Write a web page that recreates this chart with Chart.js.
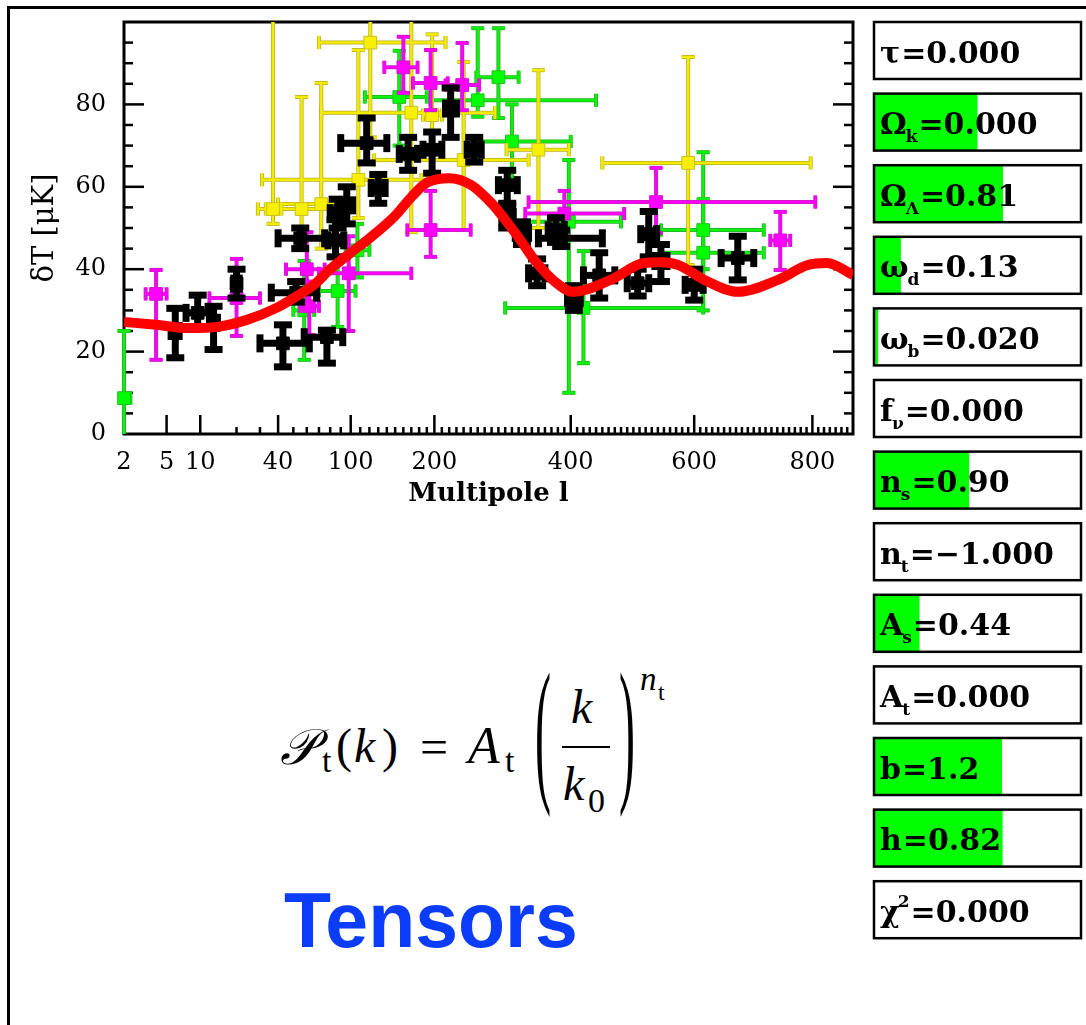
<!DOCTYPE html>
<html>
<head>
<meta charset="utf-8">
<script src="https://cdn.jsdelivr.net/npm/chart.js@4.4.0/dist/chart.umd.min.js"></script>
<style>
  html, body { margin: 0; padding: 0; background: #fff; width: 1086px; height: 1025px; overflow: hidden; }
  #frameTop { position: absolute; left: 7px; top: 6px; width: 1079px; height: 3px; background: #000; }
  #frameLeft { position: absolute; left: 7px; top: 6px; width: 3px; height: 1019px; background: #000; }
  #plot { position: absolute; left: 0; top: 0; }
  #sliders { position: absolute; left: 860px; top: 0; }
  .m { position: absolute; font-family: "Liberation Serif", "DejaVu Serif", serif; line-height: 1; color: #000; white-space: nowrap; }
  .i { font-style: italic; }
  .paren { transform: scale(1, 3.3); }
  #fracBar { position: absolute; left: 562px; top: 746px; width: 48px; height: 2px; background: #000; }
  #tensors { position: absolute; left: 284px; top: 882px; font: bold 77px "Liberation Sans", Arial, sans-serif; line-height: 1; color: #0a3cfa; }
</style>
</head>
<body>
<div id="frameTop"></div>
<div id="frameLeft"></div>
<canvas id="plot" width="870" height="520"></canvas>
<canvas id="sliders" width="226" height="1025"></canvas>

<!-- tensor power spectrum -->
<div class="m i" style="left:280px;top:722px;font-size:50px">𝒫</div>
<div class="m" style="left:322px;top:744px;font-size:34px">t</div>
<div class="m" style="left:336px;top:722px;font-size:48px">(</div>
<div class="m i" style="left:354px;top:722px;font-size:48px">k</div>
<div class="m" style="left:382px;top:722px;font-size:48px">)</div>
<div class="m" style="left:420px;top:722px;font-size:50px">=</div>
<div class="m i" style="left:468px;top:720px;font-size:52px">A</div>
<div class="m" style="left:505px;top:744px;font-size:34px">t</div>
<div class="m paren" style="left:535px;top:706px;font-size:48px">(</div>
<div class="m i" style="left:571px;top:683px;font-size:48px">k</div>
<div id="fracBar"></div>
<div class="m i" style="left:563px;top:760px;font-size:48px">k</div>
<div class="m" style="left:588px;top:784px;font-size:34px">0</div>
<div class="m paren" style="left:619px;top:706px;font-size:48px">)</div>
<div class="m i" style="left:640px;top:663px;font-size:33px">n</div>
<div class="m" style="left:658px;top:680px;font-size:24px">t</div>
<div id="tensors">Tensors</div>

<script>
// multipole axis: log at low l, close to linear at high l
function lx(l) { return Math.log(l) + l / 85; }

const lMin = 2, lMax = 870;
const dTMin = 0, dTMax = 100;
const lTicks = [2, 5, 10, 40, 100, 200, 400, 600, 800];
const dTTicks = [0, 20, 40, 60, 80];

// theory curve
const curveL = [2, 4, 8, 14, 24, 40, 55, 65, 80, 100, 120, 150, 170, 190, 220, 250, 280, 300, 323, 345, 375, 404, 463, 517, 545, 574, 617, 673, 741, 792, 825, 870];
const curveDT = [27.2, 26.5, 25.7, 26.0, 27.7, 30.8, 34, 36, 40, 44, 47.5, 53, 57.5, 61, 62.1, 60.5, 56, 52, 47, 42, 37, 34.5, 37.4, 41.5, 41.7, 41, 37.4, 34.5, 37.4, 41, 41.5, 38.6];

// band powers: [l, lLo, lHi, dT, dTLo, dTHi]
const blackPts = [
  [6, 5.5, 6.5, 25, 18.5, 30.5], [9.5, 7.5, 12, 29.4, 26, 33.7], [13, 12, 14, 27, 20.5, 31],
  [20, 19, 21, 36.5, 33, 40], [43, 30, 62, 22, 16.3, 26.5], [77, 58, 92, 23.5, 17.2, 25.2],
  [52, 36, 68, 34.3, 32, 37], [55, 40, 75, 47.5, 45, 50], [85, 78, 93, 47, 43, 52],
  [96, 90, 102, 55.5, 51, 60], [117, 90, 140, 70.6, 65.8, 76.7], [130, 122, 138, 59.7, 56, 63],
  [166, 155, 178, 68, 64, 72], [197, 185, 210, 69, 63.3, 73.3], [222, 215, 230, 79, 72, 84],
  [255, 245, 265, 69, 66, 72], [303, 290, 318, 60.4, 56, 64], [303, 295, 312, 52.7, 50, 55.5],
  [325, 315, 335, 48.8, 46, 51.5], [377, 365, 390, 49.5, 46.5, 52.5], [348, 335, 360, 39, 36, 42.5],
  [405, 395, 415, 33, 30, 36], [385, 350, 450, 47.5, 45.5, 49.5], [445, 420, 470, 38.5, 33, 44],
  [507, 490, 525, 36.6, 33.5, 40], [525, 512, 538, 48.5, 43, 54], [545, 535, 555, 42, 37, 46],
  [600, 585, 615, 36.2, 32.5, 40], [673, 645, 700, 42.7, 37.4, 48], [87, 80, 95, 53.6, 50, 57]
];
const greenPts = [
  [2, 2, 2.3, 8.7, -5, 25], [87, 70, 105, 34.7, 26, 43], [58, 50, 66, 30, 18, 42],
  [107, 95, 120, 44.6, 38, 51], [155, 115, 190, 81.8, 70, 93], [260, 195, 440, 81, 77, 98.5],
  [290, 258, 320, 86.6, 76.7, 98.5], [310, 262, 400, 71, 62, 80], [397, 300, 480, 51.5, 10, 66.5],
  [420, 300, 615, 30.6, 17.2, 44.4], [615, 545, 717, 49.5, 40, 68.4], [615, 545, 717, 44, 30, 57]
];
const magentaPts = [
  [4, 3.2, 5, 34, 18, 39.8], [20, 12, 30, 33, 23.8, 42.5], [60, 45, 75, 40, 31, 49],
  [98, 70, 170, 39, 25, 48], [62, 55, 70, 31, 24, 37], [160, 137, 178, 89, 82.8, 96.4],
  [195, 172, 218, 85.2, 78.6, 93.2], [238, 215, 262, 84.7, 78.6, 94.9], [195, 165, 250, 49.5, 43, 59],
  [537, 335, 805, 56.3, 48.8, 64.6], [745, 728, 762, 47, 39.8, 53.9], [390, 330, 485, 53.5, 48, 59]
];
const yellowPts = [
  [121, 70, 215, 95, 72, 110], [170, 72, 285, 78, 49, 105], [240, 125, 335, 66.5, 49.5, 90.3],
  [350, 302, 397, 69, 50, 88.3], [108, 31, 183, 61.7, 52.4, 93.2], [72, 40, 100, 55.8, 45, 85.2],
  [56, 29, 90, 54.6, 48, 81.8], [37, 33, 42, 54.6, 51, 105], [590, 450, 797, 65.8, 41, 91.5],
  [197, 185, 210, 77.4, 62, 97]
];

// parameter sliders
const paramSym = ['τ', 'Ω', 'Ω', 'ω', 'ω', 'f', 'n', 'n', 'A', 'A', 'b', 'h', 'χ'];
const paramSub = ['', 'k', 'Λ', 'd', 'b', 'ν', 's', 't', 's', 't', '', '', ''];
const paramSup = ['', '', '', '', '', '', '', '', '', '', '', '', '2'];
const paramText = ['0.000', '0.000', '0.81', '0.13', '0.020', '0.000', '0.90', '−1.000', '0.44', '0.000', '1.2', '0.82', '0.000'];
const paramValue = [0, 0, 0.81, 0.13, 0.020, 0, 0.90, -1.0, 0.44, 0, 1.2, 0.82, 0];
const paramMin = [0, -1, 0, 0, 0, 0, 0.5, -1, 0, 0, 0, 0, 0];
const paramMax = [1, 1, 1.3, 1, 1, 1, 1.37, 0, 2, 1, 1.94, 1.32, 1];

function toXY(rows) { return rows.map(r => ({ x: lx(r[0]), y: r[3] })); }

function line(ctx, x0, y0, x1, y1) { ctx.beginPath(); ctx.moveTo(x0, y0); ctx.lineTo(x1, y1); ctx.stroke(); }

// error bars drawn just below each point set
const errorBars = {
  id: 'errorBars',
  beforeDatasetDraw(chart, args) {
    const ds = chart.data.datasets[args.index];
    if (!ds.rows) return;
    const { ctx, chartArea: a, scales: { x, y } } = chart;
    ctx.save();
    ctx.beginPath();
    ctx.rect(a.left - 12, a.top, a.right - a.left + 12, a.bottom - a.top);
    ctx.clip();
    ctx.lineCap = 'butt';
    const passes = ds.edgeColor ? [[ds.edgeColor, ds.barWidth + 1.5], [ds.barColor, ds.barWidth]] : [[ds.barColor, ds.barWidth]];
    passes.forEach(([col, w]) => {
      ctx.strokeStyle = col;
      ctx.lineWidth = w;
      const c = ds.capSize / 2;
      ds.rows.forEach(r => {
        const px = x.getPixelForValue(lx(r[0])), py = y.getPixelForValue(r[3]);
        const x0 = x.getPixelForValue(lx(r[1])), x1 = x.getPixelForValue(lx(r[2]));
        const y0 = y.getPixelForValue(r[4]), y1 = y.getPixelForValue(r[5]);
        line(ctx, x0, py, x1, py);
        line(ctx, x0, py - c, x0, py + c);
        line(ctx, x1, py - c, x1, py + c);
        line(ctx, px, y0, px, y1);
        line(ctx, px - c, y0, px + c, y0);
        line(ctx, px - c, y1, px + c, y1);
      });
    });
    ctx.restore();
  }
};

// box round the plot with inward tick marks
const axisFrame = {
  id: 'axisFrame',
  beforeDatasetsDraw(chart) {
    const { ctx, chartArea: a, scales: { x, y } } = chart;
    ctx.save();
    ctx.strokeStyle = '#000';
    ctx.lineWidth = 2.5;
    for (let l = 20; l < lMax; l += 10) {
      if (lTicks.includes(l)) continue;
      const px = x.getPixelForValue(lx(l));
      line(ctx, px, a.bottom, px, a.bottom - 7);
    }
    lTicks.forEach(l => {
      const px = x.getPixelForValue(lx(l));
      line(ctx, px, a.bottom, px, a.bottom - 19);
    });
    for (let v = 5; v < dTMax; v += 5) {
      const py = y.getPixelForValue(v);
      const len = v % 20 === 0 ? 20 : 9;
      line(ctx, a.left, py, a.left + len, py);
      line(ctx, a.right, py, a.right - len, py);
    }
    ctx.lineWidth = 3;
    ctx.strokeRect(a.left, a.top, a.right - a.left, a.bottom - a.top);
    ctx.restore();
  }
};

const tickFont = { family: 'DejaVu Serif', size: 24 };
const titleFont = { family: 'DejaVu Serif', size: 26, weight: 'bold' };

const plot = new Chart(document.getElementById('plot'), {
  type: 'scatter',
  data: {
    datasets: [
      { data: curveL.map((l, i) => ({ x: lx(l), y: curveDT[i] })), showLine: true, borderColor: '#ff0000',
        borderWidth: 10, pointRadius: 0, cubicInterpolationMode: 'monotone', clip: 0, order: 0 },
      { data: toXY(blackPts), rows: blackPts, barColor: '#000', barWidth: 7, capSize: 18,
        backgroundColor: '#000', borderColor: '#000', pointStyle: 'rect', pointRadius: 9, clip: false, order: 1 },
      { data: toXY(magentaPts), rows: magentaPts, barColor: '#ff00ff', edgeColor: '#c020c0', barWidth: 2.5, capSize: 13,
        backgroundColor: '#ff00ff', borderColor: '#d010d0', borderWidth: 1, pointStyle: 'rect', pointRadius: 9, clip: false, order: 2 },
      { data: toXY(yellowPts), rows: yellowPts, barColor: '#f4ec00', edgeColor: '#b8b020', barWidth: 2.5, capSize: 13,
        backgroundColor: '#f8f000', borderColor: '#c8c020', borderWidth: 1, pointStyle: 'rect', pointRadius: 9, clip: false, order: 3 },
      { data: toXY(greenPts), rows: greenPts, barColor: '#10f010', edgeColor: '#20b020', barWidth: 2.5, capSize: 13,
        backgroundColor: '#00ff00', borderColor: '#20c020', borderWidth: 1, pointStyle: 'rect', pointRadius: 9, clip: false, order: 4 }
    ]
  },
  options: {
    responsive: false,
    animation: false,
    devicePixelRatio: 1,
    layout: { padding: { top: 22, right: 17, left: 0, bottom: 0 } },
    plugins: { legend: { display: false }, tooltip: { enabled: false } },
    scales: {
      x: {
        type: 'linear', min: lx(lMin), max: lx(lMax),
        grid: { display: false }, border: { display: false },
        afterBuildTicks: s => { s.ticks = lTicks.map(l => ({ value: lx(l) })); },
        afterFit: s => { s.height = 86; s.paddingLeft = 0; s.paddingRight = 0; },
        ticks: { autoSkip: false, maxRotation: 0, color: '#000', font: tickFont, padding: 6,
                 callback: (v, i) => String(lTicks[i]) },
        title: { display: true, text: 'Multipole l', color: '#000', font: titleFont, padding: { top: 0, bottom: 10 } }
      },
      y: {
        type: 'linear', min: dTMin, max: dTMax,
        grid: { display: false }, border: { display: false },
        afterBuildTicks: s => { s.ticks = dTTicks.map(v => ({ value: v })); },
        afterFit: s => { s.width = 124; s.paddingTop = 0; s.paddingBottom = 0; },
        ticks: { color: '#000', font: tickFont, padding: 10 },
        title: { display: true, text: 'δT [μK]', color: '#000', font: { family: 'DejaVu Serif', size: 29 }, padding: { top: 28, bottom: 0 } }
      }
    }
  },
  plugins: [errorBars, axisFrame]
});

// keep the plot box where it belongs even if the layout adds extra space on top
if (plot.chartArea.top !== 22) {
  plot.options.layout.padding.top = 22 - (plot.chartArea.top - 22);
  plot.update();
}

// boxes and labels for the slider column
const sliderBoxes = {
  id: 'sliderBoxes',
  afterDatasetsDraw(chart) {
    const { ctx, chartArea: a, scales: { y } } = chart;
    const h = 57;
    ctx.save();
    paramSym.forEach((s, i) => {
      const yc = y.getPixelForValue(i);
      ctx.strokeStyle = '#000';
      ctx.lineWidth = 2.5;
      ctx.strokeRect(a.left, yc - h / 2, a.right - a.left, h);
      const base = yc + 12;
      let tx = a.left + 6;
      ctx.fillStyle = '#000';
      ctx.textBaseline = 'alphabetic';
      ctx.font = 'bold 30px "DejaVu Serif"';
      ctx.fillText(s, tx, base);
      tx += ctx.measureText(s).width;
      if (paramSub[i]) {
        ctx.font = 'bold 17px "DejaVu Serif"';
        ctx.fillText(paramSub[i], tx - 1, base + 8);
        tx += ctx.measureText(paramSub[i]).width - 1;
      }
      if (paramSup[i]) {
        ctx.font = 'bold 17px "DejaVu Serif"';
        ctx.fillText(paramSup[i], tx - 2, base - 15);
        tx += ctx.measureText(paramSup[i]).width - 2;
      }
      ctx.font = 'bold 30px "DejaVu Serif"';
      ctx.fillText('=' + paramText[i], tx + 1, base);
    });
    ctx.restore();
  }
};

new Chart(document.getElementById('sliders'), {
  type: 'bar',
  data: {
    labels: paramSym.map((s, i) => s + paramSub[i] + paramSup[i] + '=' + paramText[i]),
    datasets: [{
      data: paramValue.map((v, i) => (v - paramMin[i]) / (paramMax[i] - paramMin[i])),
      backgroundColor: '#00ff00', borderWidth: 0,
      barPercentage: 0.796, categoryPercentage: 1.0
    }]
  },
  options: {
    indexAxis: 'y',
    responsive: false,
    animation: false,
    devicePixelRatio: 1,
    layout: { padding: { top: 14.7, right: 5, left: 14, bottom: 79.5 } },
    plugins: { legend: { display: false }, tooltip: { enabled: false } },
    scales: {
      x: { min: 0, max: 1, display: false },
      y: { display: false }
    }
  },
  plugins: [sliderBoxes]
});
</script>
</body>
</html>
